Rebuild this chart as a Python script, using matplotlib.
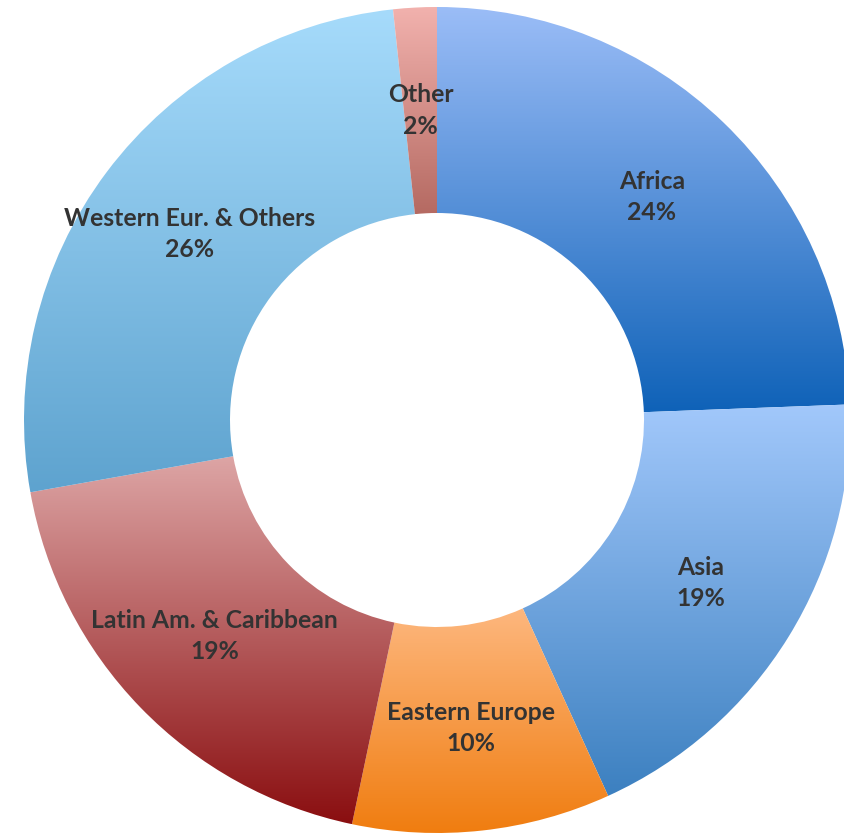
import matplotlib
matplotlib.use("Agg")
import matplotlib.pyplot as plt
import numpy as np
from matplotlib.colors import LinearSegmentedColormap

categories = ["Africa", "Asia", "Eastern Europe", "Latin Am. & Caribbean",
              "Western Eur. & Others", "Other"]
shares = [24.4, 18.8, 10.1, 18.9, 26.1, 1.7]
pct_labels = ["24%", "19%", "10%", "19%", "26%", "2%"]
top_colors = ["#9BBDF7", "#A2C8FB", "#FDB77E", "#DDA5A5", "#A6DBFB", "#F2B2AE"]
bottom_colors = ["#0F62B8", "#3C80C0", "#F07D10", "#8A0E10", "#5EA3CF", "#B56A62"]

W, H = 844, 838
fig = plt.figure(figsize=(W / 100, H / 100), dpi=100)
ax = fig.add_axes([0, 0, 1, 1])

cx, cy = 437, H - 420
R, width = 413, 206

labels = [f"{c}\n{p}" for c, p in zip(categories, pct_labels)]
wedges, texts = ax.pie(shares, labels=labels, radius=R, center=(cx, cy),
                       startangle=90, counterclock=False,
                       labeldistance=(R - width / 2) / R,
                       wedgeprops=dict(width=width, facecolor="none", edgecolor="none"),
                       textprops=dict(fontfamily=["Lato", "DejaVu Sans"], fontweight="bold",
                                      fontsize=17.8, color="#333333", linespacing=1.43))
ax.set_xlim(0, W)
ax.set_ylim(0, H)
ax.set_aspect("equal")
ax.axis("off")

for w, t, b in zip(wedges, top_colors, bottom_colors):
    ext = w.get_path().get_extents()
    cmap = LinearSegmentedColormap.from_list("g", [b, t])
    grad = np.linspace(0, 1, 256).reshape(-1, 1)
    im = ax.imshow(grad, cmap=cmap, origin="lower", aspect="auto",
                   extent=[ext.x0, ext.x1, ext.y0, ext.y1], zorder=1,
                   interpolation="bilinear")
    im.set_clip_path(w)

ax.set_xlim(0, W)
ax.set_ylim(0, H)

for t in texts:
    t.set_ha("center")
    t.set_va("center")
    t.set_zorder(5)

fig.savefig("out.png", dpi=100, facecolor="white")
